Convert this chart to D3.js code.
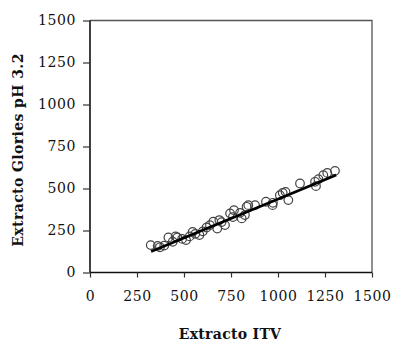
<!DOCTYPE html>
<html><head><meta charset="utf-8">
<script src="https://cdn.jsdelivr.net/npm/d3@7"></script>
<style>body{margin:0;background:#fff}svg{display:block}</style>
</head><body>
<script>
const xVals = [323,372,360,417,440,465,490,511,546,582,600,638,656,677,688,718,745,766,798,842,824,807,833,878,936,973,971,1025,1040,1055,1117,1197,1202,1241,1262,1303,620,700,760,560,530,395,455,1215,1010];
const yVals = [163,150,158,209,183,209,200,193,242,223,245,282,302,262,312,282,352,371,355,401,342,322,391,401,421,415,401,474,480,431,530,540,514,579,593,605,268,300,330,230,215,160,215,555,460];
const xTicks = [0,250,500,750,1000,1250,1500];
const yTicks = [0,250,500,750,1000,1250,1500];
const lineX = [325,1310];
const slope = 0.462, intercept = -25;
const xTitle = "Extracto ITV";
const yTitle = "Extracto Glories pH 3.2";

const W=394,H=343;
const svg=d3.select("body").append("svg").attr("width",W).attr("height",H);
const x=d3.scaleLinear().domain([0,1500]).range([90,372]);
const y=d3.scaleLinear().domain([0,1500]).range([272.5,20.5]);
const font="'DejaVu Serif', serif";

svg.append("path").attr("d",`M90,${y(1500)}H372V${y(0)}`).attr("fill","none").attr("stroke","#555").attr("stroke-width",1.3);

const gx=svg.append("g").attr("transform",`translate(0,${y(0)})`)
  .call(d3.axisBottom(x).tickValues(xTicks).tickSize(5).tickPadding(14).tickFormat(d3.format("d")));
const gy=svg.append("g").attr("transform",`translate(90,0)`)
  .call(d3.axisLeft(y).tickValues(yTicks).tickSize(7).tickPadding(7).tickFormat(d3.format("d")));
[gx,gy].forEach(g=>{
  g.select(".domain").attr("stroke","#111").attr("stroke-width",1.6);
  g.selectAll(".tick line").attr("stroke","#333").attr("stroke-width",1.2);
  g.selectAll("text").attr("font-family",font).attr("font-size",14).attr("fill","#111").attr("letter-spacing","0.6px");
});
gy.select(".domain").attr("d",`M0,${y(1500)}V${y(0)}`);
gx.select(".domain").attr("d",`M${x(0)},0H${x(1500)}`);

const pts=xVals.map((v,i)=>({x:v,y:yVals[i]}));
svg.append("g").selectAll("circle").data(pts).join("circle")
  .attr("cx",d=>x(d.x)).attr("cy",d=>y(d.y)).attr("r",4.3)
  .attr("fill","none").attr("stroke","#444").attr("stroke-width",1.2);

svg.append("line").attr("x1",x(lineX[0])).attr("y1",y(slope*lineX[0]+intercept))
  .attr("x2",x(lineX[1])).attr("y2",y(slope*lineX[1]+intercept))
  .attr("stroke","#000").attr("stroke-width",2.6);

svg.append("text").attr("x",230).attr("y",339).attr("text-anchor","middle")
  .attr("font-family",font).attr("font-weight","bold").attr("font-size",14).attr("letter-spacing","0.3px").attr("fill","#111").text(xTitle);
svg.append("text").attr("transform","translate(23,150) rotate(-90)").attr("text-anchor","middle")
  .attr("font-family",font).attr("font-weight","bold").attr("font-size",14).attr("letter-spacing","0.4px").attr("fill","#111").text(yTitle);
</script>
</body></html>
